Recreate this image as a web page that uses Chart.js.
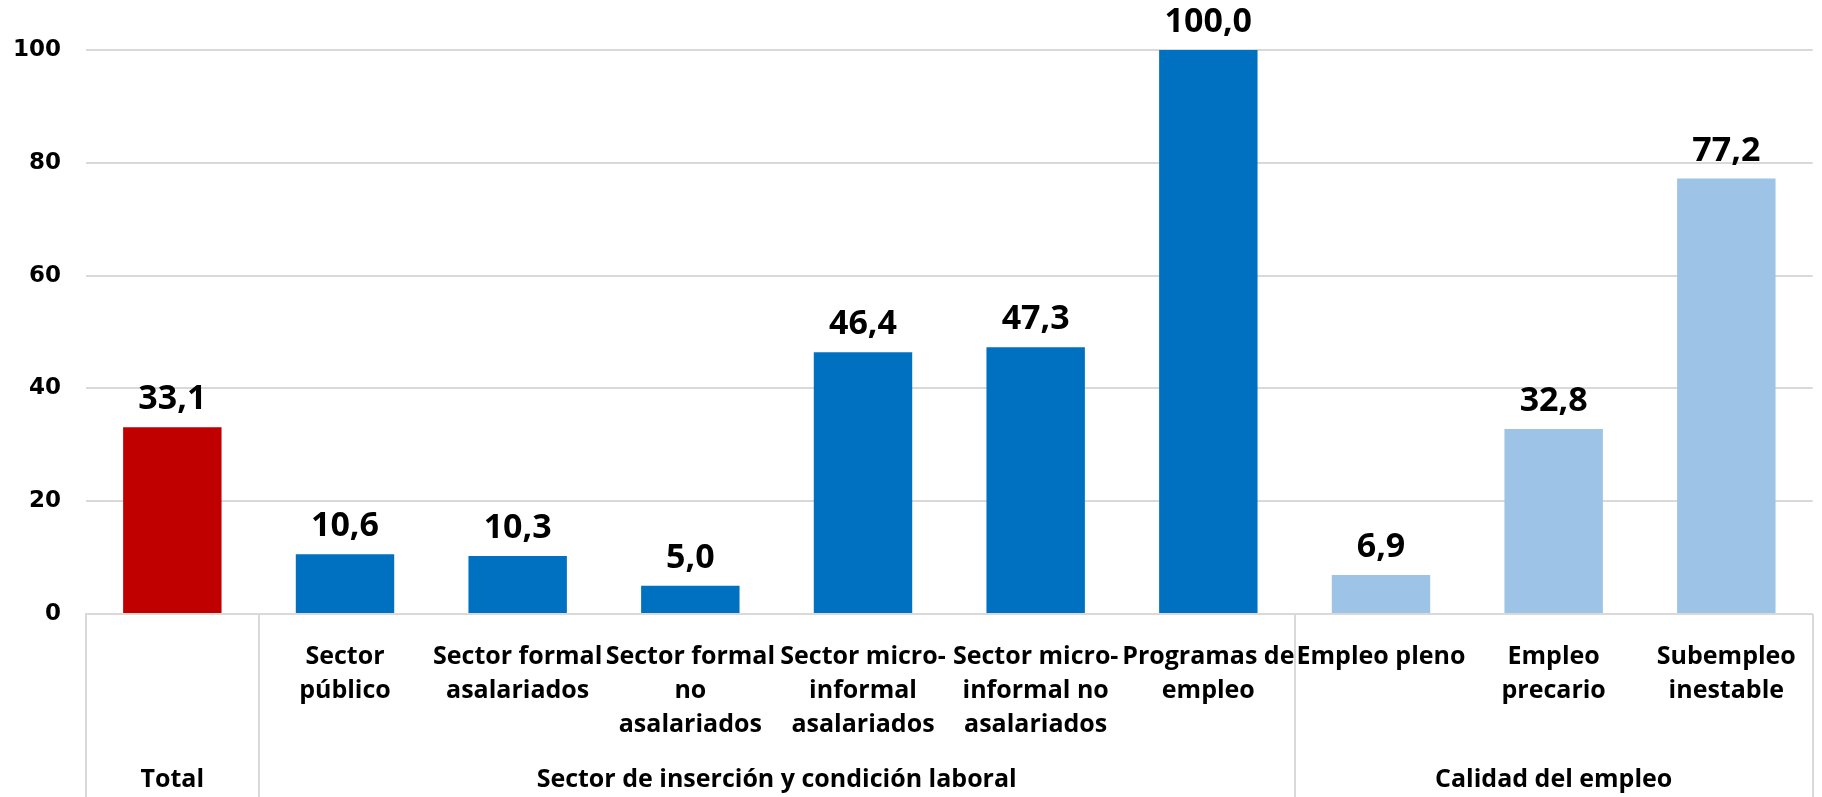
<!DOCTYPE html>
<html>
<head>
<meta charset="utf-8">
<script src="https://cdn.jsdelivr.net/npm/chart.js@4"></script>
<style>
  body { margin: 0; background: #fff; }
  #wrap { width: 1822px; height: 797px; position: relative; }
</style>
</head>
<body>
<div id="wrap"><canvas id="chart"></canvas></div>
<script>
// categories (first level), one array of lines per bar
let categories = [
    [""],
    ["Sector", "público"],
    ["Sector formal", "asalariados"],
    ["Sector formal", "no", "asalariados"],
    ["Sector micro-", "informal", "asalariados"],
    ["Sector micro-", "informal no", "asalariados"],
    ["Programas de", "empleo"],
    ["Empleo pleno"],
    ["Empleo", "precario"],
    ["Subempleo", "inestable"]
];
let values = [33.1, 10.6, 10.3, 5.0, 46.4, 47.3, 100.0, 6.9, 32.8, 77.2];

// second level groups
let groupNames = ["Total", "Sector de inserción y condición laboral", "Calidad del empleo"];
let groupSizes = [1, 6, 3];
let groupColors = ["#C00000", "#0070C0", "#9DC3E6"];

let yTicks = [0, 20, 40, 60, 80, 100];

let barColors = [];
groupSizes.forEach((n, g) => {
    for (let i = 0; i < n; i++) barColors.push(groupColors[g]);
});

const catFont = { family: "'Open Sans', sans-serif", size: 25, weight: "bold", lineHeight: 1.36 };
const gridGray = "#D9D9D9";

// value labels above bars + group row of the category axis
const extrasPlugin = {
    id: "extras",
    afterDatasetsDraw(chart) {
        let ctx = chart.ctx;
        let meta = chart.getDatasetMeta(0);
        ctx.save();
        ctx.fillStyle = "#000";
        ctx.font = "bold 34px 'Open Sans', sans-serif";
        ctx.textAlign = "center";
        ctx.textBaseline = "alphabetic";
        meta.data.forEach((bar, i) => {
            ctx.fillText(values[i].toFixed(1).replace(".", ","), bar.x, bar.y - 18);
        });
        ctx.restore();
    },
    afterDraw(chart) {
        let ctx = chart.ctx;
        let xs = chart.scales.x;
        let area = chart.chartArea;
        let bottom = chart.height;

        let edge = i => {
            if (i <= 0) return area.left;
            if (i >= values.length) return area.right;
            return (xs.getPixelForValue(i - 1) + xs.getPixelForValue(i)) / 2;
        };

        ctx.save();
        ctx.strokeStyle = gridGray;
        ctx.lineWidth = 2;
        let start = 0;
        let bounds = [0];
        groupSizes.forEach(n => { start += n; bounds.push(start); });
        bounds.forEach(b => {
            let x = Math.round(edge(b));
            ctx.beginPath();
            ctx.moveTo(x, area.bottom);
            ctx.lineTo(x, bottom);
            ctx.stroke();
        });

        ctx.fillStyle = "#000";
        ctx.font = "bold 25px 'Open Sans', sans-serif";
        ctx.textAlign = "center";
        ctx.textBaseline = "middle";
        for (let g = 0; g < groupNames.length; g++) {
            let cx = (edge(bounds[g]) + edge(bounds[g + 1])) / 2;
            ctx.fillText(groupNames[g], cx, 780);
        }
        ctx.restore();
    }
};

let ctx = document.getElementById("chart").getContext("2d");
let chartInstance = new Chart(ctx, {
    type: "bar",
    data: {
        labels: categories,
        datasets: [{
            data: values,
            backgroundColor: barColors,
            borderWidth: 0,
            categoryPercentage: 1.0,
            barPercentage: 0.57
        }]
    },
    options: {
        responsive: true,
        maintainAspectRatio: false,
        animation: false,
        layout: { padding: { top: 50, right: 3, left: 0, bottom: 0 } },
        plugins: {
            legend: { display: false },
            tooltip: { enabled: false }
        },
        scales: {
            x: {
                grid: { display: false, drawTicks: false },
                border: { display: true, color: gridGray, width: 2 },
                ticks: {
                    color: "#000",
                    font: catFont,
                    padding: 26,
                    maxRotation: 0,
                    minRotation: 0,
                    autoSkip: false
                },
                afterFit: s => { s.height = 183; }
            },
            y: {
                min: 0,
                max: 100,
                afterBuildTicks: s => { s.ticks = yTicks.map(v => ({ value: v })); },
                grid: { color: gridGray, lineWidth: 2, drawTicks: false },
                border: { display: false },
                ticks: {
                    color: "#000",
                    font: { family: "'DejaVu Sans', sans-serif", size: 23, weight: "bold" },
                    padding: 25
                },
                afterFit: s => { s.width = 86; }
            }
        }
    },
    plugins: [extrasPlugin]
});
</script>
</body>
</html>
